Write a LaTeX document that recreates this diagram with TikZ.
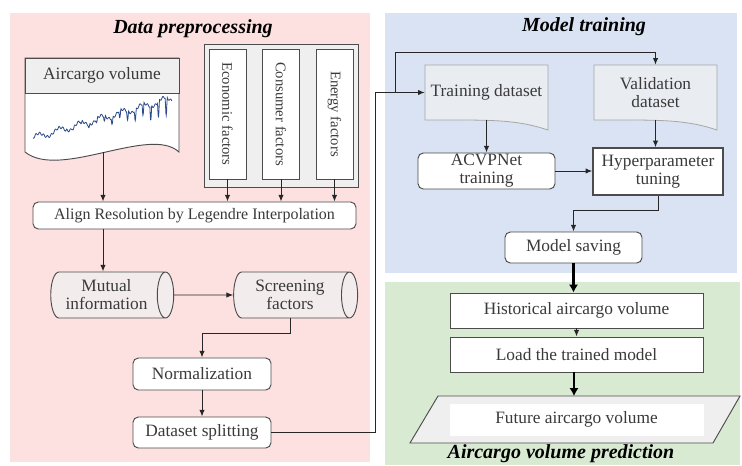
\documentclass[tikz,border=0pt]{standalone}
\usepackage{fontspec}
\setmainfont{Liberation Serif}
\usetikzlibrary{arrows.meta,shapes.geometric}

\definecolor{pinkbg}{HTML}{FDE1E1}
\definecolor{bluebg}{HTML}{DAE3F3}
\definecolor{greenbg}{HTML}{D9EAD3}
\definecolor{cylfill}{HTML}{F3ECEC}
\definecolor{docgray}{HTML}{EFEFEF}
\definecolor{sheetfill}{HTML}{E9ECF1}
\definecolor{txt}{HTML}{3A3A3A}
\definecolor{series}{HTML}{2B4A8B}

\tikzset{
  box/.style={draw=black!70, line width=0.7pt, fill=white, rounded corners=4pt, text=txt,
    align=center, inner sep=1pt, font=\fontsize{13}{13.5}\selectfont},
  sqbox/.style={box, rounded corners=0pt},
  cyl/.style={cylinder, draw=black!70, line width=0.7pt, fill=cylfill, aspect=0.5, text=txt,
    align=center, inner sep=1pt, font=\fontsize{13}{13.5}\selectfont},
  factor/.style={draw=black!70, line width=0.7pt, fill=white, rotate=-90, text=txt,
    minimum width=97.5pt, minimum height=27.75pt, inner sep=0pt, font=\fontsize{11}{12}\selectfont},
  sheet/.style={text=txt, align=center, minimum width=92.25pt, minimum height=41.25pt,
    inner sep=1pt, font=\fontsize{13}{13.5}\selectfont},
  arr/.style={-{Latex[length=5pt,width=4pt]}, line width=0.7pt, draw=black!85},
  bigarr/.style={-{Latex[length=6pt,width=7pt]}, line width=2pt, draw=black},
  title/.style={font=\fontsize{15}{16}\selectfont\bfseries\itshape},
}

\begin{document}
\begin{tikzpicture}[x=0.75pt,y=-0.75pt]
\useasboundingbox (0,0) rectangle (742,465);
% panels
\fill[pinkbg] (10,13) rectangle (370,462);
\fill[bluebg] (385,13) rectangle (737,273);
\fill[greenbg] (385,282) rectangle (740,465);
\node[title] (t1) at (193,29) {Data preprocessing};
\node[title] (t2) at (584,27) {Model training};
\node[title] (t3) at (561,454) {Aircargo volume prediction};

% data preprocessing
\draw[line width=0.7pt, draw=black!70, fill=white] (25,58) -- (179,58) -- (179,152)
  .. controls (150,125) and (60,180) .. (25,152) -- cycle;
\draw[line width=0.7pt, draw=black!70, fill=docgray] (25,58) rectangle (179,93);
\node[text=txt, font=\fontsize{13}{14}\selectfont] (vol) at (102,75.5) {Aircargo volume};
\draw[series, line width=0.6pt] plot[domain=0:1, samples=400]
  ({33+139*\x}, {138-40*\x-3*sin(2400*\x)+1.2*sin(13000*\x)+80*\x*\x*max(0,sin(6480*\x)-0.75)});
\coordinate (volb) at (103,152);

\draw[line width=0.7pt, draw=black!70, fill=docgray] (204,44) rectangle (358,187);
\node[factor] (econ) at (227.5,114) {Economic factors};
\node[factor] (cons) at (281,114) {Consumer factors};
\node[factor] (ener) at (334.5,114) {Energy factors};

\node[box, minimum width=242.25pt, minimum height=20.25pt, font=\fontsize{12}{13}\selectfont]
  (align) at (194.5,215.5) {Align Resolution by Legendre Interpolation};
\node[cyl, minimum height=92.25pt, minimum width=34.5pt] (mutual) at (106.5,295) {Mutual\\information};
\node[cyl, minimum height=93pt, minimum width=34.5pt] (screen) at (290,295) {Screening\\factors};
\node[box, minimum width=103.5pt, minimum height=24pt] (norm) at (202,374) {Normalization};
\node[box, minimum width=103.5pt, minimum height=23.25pt] (split) at (202,432.5) {Dataset splitting};

\draw[arr] (volb) -- (volb |- align.north);
\foreach \f in {econ,cons,ener}
  \draw[arr] (\f.east) -- (\f.east |- align.north);
\draw[arr] (volb |- align.south) -- (volb |- mutual.north);
\draw[arr] (mutual.east) -- (screen.west);
\draw[arr] (screen.south) -- ++(0,15) -| (norm.north);
\draw[arr] (norm.south) -- (split.north);

% model training
\draw[line width=0.6pt, draw=black!35, fill=sheetfill] (425,65) -- (548,65) -- (548,130)
  .. controls (515,119) and (490,120) .. (425,120) -- cycle;
\draw[line width=0.6pt, draw=black!35, fill=sheetfill] (594,65) -- (717,65) -- (717,130)
  .. controls (684,119) and (659,120) .. (594,120) -- cycle;
\node[sheet] (train) at (486.5,92.5) {Training dataset};
\node[sheet] (val) at (655.5,92.5) {Validation\\dataset};
\node[box, minimum width=102.75pt, minimum height=27pt, inner ysep=0pt] (acvp) at (486.5,171) {ACVPNet\\training};
\node[sqbox, line width=1.1pt, minimum width=97.5pt, minimum height=35.25pt] (hyper) at (658,171.5) {Hyperparameter\\tuning};
\node[box, minimum width=102.75pt, minimum height=23.25pt] (save) at (573.5,247.5) {Model saving};

\coordinate (jn) at (375,92.5);
\coordinate (br) at (395,92.5);
\draw[arr] (split.east) -| (jn) -- (train.west);
\draw[arr] (br) -- ++(0,-40.5) -| (val.north);
\draw[arr] (train.south) -- (acvp.north);
\draw[arr] (val.south) -- (val.south |- hyper.north);
\draw[arr] (acvp.east) -- (acvp.east -| hyper.west);
\draw[arr] (hyper.south) -- ++(0,15) -| (save.north);

% prediction
\node[sqbox, minimum width=189.75pt, minimum height=26.25pt] (hist) at (576.5,310.5) {Historical aircargo volume};
\node[sqbox, minimum width=189.75pt, minimum height=26.25pt] (load) at (576.5,354.5) {Load the trained model};
\draw[line width=0.7pt, draw=black!70, fill=docgray] (438,396) -- (740,396) -- (713,443) -- (410,443) -- cycle;
\node[sqbox, draw=white, minimum width=189.75pt, minimum height=23.25pt] (fut) at (576.5,419.5) {Future aircargo volume};
\coordinate (paratop) at (574,396);

\draw[bigarr] (save.south) -- (save.south |- hist.north);
\draw[arr] (hist.south) -- (load.north);
\draw[bigarr] (load.south -| paratop) -- (paratop);
\end{tikzpicture}
\end{document}
